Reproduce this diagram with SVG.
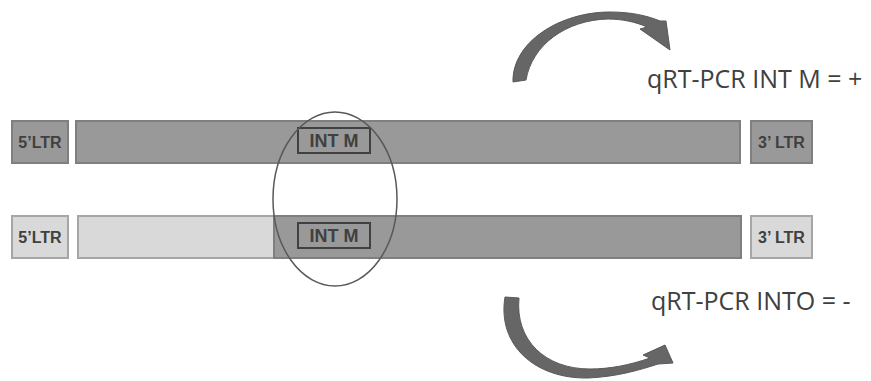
<svg xmlns="http://www.w3.org/2000/svg" width="871" height="381" viewBox="0 0 871 381">
<style>
.dark{fill:#999999;stroke:#7f7f7f;stroke-width:2}
.light{fill:#d9d9d9;stroke:#a6a6a6;stroke-width:2}
.lbl{font-family:"Liberation Sans",Arial,sans-serif;font-weight:bold;font-size:16px;fill:#404040;text-anchor:middle}
.int{font-size:18px}
.big{font-family:"Open Sans","Liberation Sans",sans-serif;font-size:25px;fill:#404040}
.box{fill:none;stroke:#404040;stroke-width:2}
.arrow{fill:#666666;stroke:#595959;stroke-width:1}
</style>
<rect width="871" height="381" fill="#ffffff"/>
<g id="top-5ltr"><rect class="dark" x="12" y="121" width="56" height="42"/><text class="lbl" x="40" y="148">5’LTR</text></g>
<g id="top-bar"><rect class="dark" x="76" y="121" width="664" height="42"/></g>
<g id="top-intm"><rect class="box" x="298" y="128" width="72" height="25"/><text class="lbl int" x="334" y="147">INT M</text></g>
<g id="top-3ltr"><rect class="dark" x="751" y="121" width="61" height="42"/><text class="lbl" x="781.5" y="148">3’ LTR</text></g>
<g id="bot-5ltr"><rect class="light" x="12" y="216" width="56" height="42"/><text class="lbl" x="40" y="243">5’LTR</text></g>
<g id="bot-bar-light"><rect class="light" x="78" y="216" width="196" height="42"/></g>
<g id="bot-bar-dark"><rect class="dark" x="274" y="216" width="467" height="42"/></g>
<g id="bot-intm"><rect class="box" x="298" y="223" width="72" height="25"/><text class="lbl int" x="334" y="242">INT M</text></g>
<g id="bot-3ltr"><rect class="light" x="751" y="216" width="61" height="42"/><text class="lbl" x="781.5" y="243">3’ LTR</text></g>
<g id="ellipse"><ellipse cx="335" cy="199" rx="62" ry="87" fill="none" stroke="#595959" stroke-width="1.5"/></g>
<g id="connectors">
<path class="arrow" d="M513,82 C512,42 560,12 610,12 C632,12 648,16 660,21 L666,21 L670,50 L640,29 L647,27 C636,22 622,19 608,19 C566,20 532,45 526,80 Z"/>
<path class="arrow" d="M505,297 C497,345 535,379 588,378 C615,377 640,370 658,364 L673,363 L665,345 L643,355 L650,358 C630,365 610,369 590,369 C545,369 515,340 519,298 Z"/>
</g>
<g id="label-top"><text class="big" x="647" y="88">qRT-PCR INT M = +</text></g>
<g id="label-bottom"><text class="big" x="651" y="310">qRT-PCR INTO = -</text></g>
</svg>
